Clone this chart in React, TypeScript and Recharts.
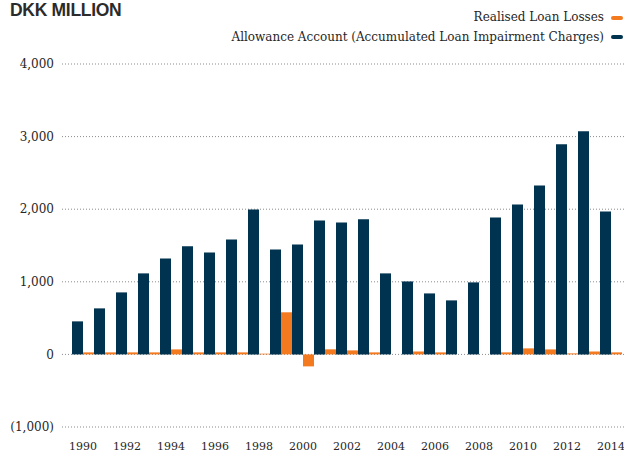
import React from "react";
import { BarChart, Bar, XAxis, YAxis, CartesianGrid } from "recharts";

const years = [
  "1990", "1991", "1992", "1993", "1994", "1995", "1996", "1997", "1998", "1999",
  "2000", "2001", "2002", "2003", "2004", "2005", "2006", "2007", "2008", "2009",
  "2010", "2011", "2012", "2013", "2014",
];

// DKK million
const allowance = [
  455, 634, 854, 1116, 1322, 1488, 1405, 1584, 1997, 1446,
  1515, 1846, 1818, 1860, 1116, 1005, 840, 744, 992, 1887,
  2066, 2328, 2893, 3072, 1970,
];

const realised = [
  28, 28, 28, 28, 69, 28, 28, 28, 10, 580,
  -165, 70, 55, 28, 0, 40, 28, 0, 0, 28,
  83, 69, 14, 40, 28,
];

const yTicks = [-1000, 0, 1000, 2000, 3000, 4000];

const NAVY = "#00334f";
const ORANGE = "#f47a20";
const TEXT = "#262626";
const SERIF = "DejaVu Serif";

const data = years.map((year, i) => ({
  year,
  allowance: allowance[i],
  realised: realised[i],
}));

const legendRows = [
  { label: "Realised Loan Losses", color: ORANGE },
  { label: "Allowance Account (Accumulated Loan Impairment Charges)", color: NAVY },
];

const fmtY = (v: number) => {
  const s = Math.abs(v).toLocaleString("en-US");
  return v < 0 ? `(${s})` : s;
};

export default function App() {
  return (
    <div style={{ position: "absolute", left: 0, top: 0, width: 624, height: 453, background: "#fff" }}>
      <div style={{
        position: "absolute", left: 10, top: 0,
        fontFamily: "Liberation Sans",
        fontWeight: 700, fontSize: 17.5, lineHeight: "normal", color: "#2b2b2b",
        letterSpacing: -0.3,
      }}>
        DKK MILLION
      </div>

      <div style={{ position: "absolute", right: 1, top: 8, display: "flex", flexDirection: "column", alignItems: "flex-end" }}>
        {legendRows.map(row => (
          <div key={row.label} style={{ display: "flex", alignItems: "center", lineHeight: "19.5px" }}>
            <span style={{ fontFamily: SERIF, fontSize: 12, color: TEXT, whiteSpace: "nowrap" }}>{row.label}</span>
            <div style={{ width: 12, height: 4, borderRadius: 2, background: row.color, marginLeft: 7 }} />
          </div>
        ))}
      </div>

      <BarChart
        width={624}
        height={453}
        data={data}
        margin={{ top: 64, right: 0, left: 0, bottom: 0 }}
        barCategoryGap={0}
        barGap={0}
      >
        <CartesianGrid vertical={false} stroke="#8a8a8a" strokeDasharray="1 2" />
        <XAxis
          dataKey="year"
          interval={1}
          height={26}
          padding={{ left: 10, right: 2 }}
          axisLine={false}
          tickLine={false}
          tickMargin={9}
          tick={{ fontFamily: SERIF, fontSize: 11, fill: TEXT }}
        />
        <YAxis
          width={62}
          domain={[-1000, 4000]}
          ticks={yTicks}
          tickFormatter={fmtY}
          axisLine={false}
          tickLine={false}
          tick={{ fontFamily: SERIF, fontSize: 12, fill: TEXT }}
        />
        <Bar dataKey="allowance" fill={NAVY} isAnimationActive={false} />
        <Bar dataKey="realised" fill={ORANGE} isAnimationActive={false} />
      </BarChart>
    </div>
  );
}
